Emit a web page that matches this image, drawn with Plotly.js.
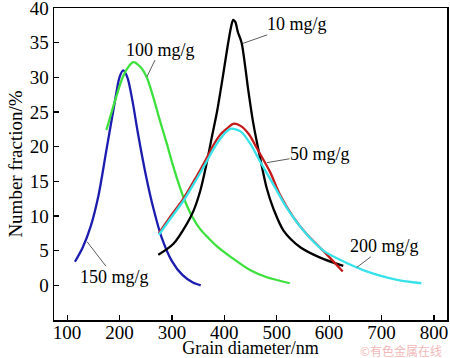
<!DOCTYPE html>
<html>
<head>
<meta charset="utf-8">
<script src="https://cdn.plot.ly/plotly-3.0.1.min.js"></script>
<style>html,body{margin:0;padding:0;background:#fff;}#chart{width:450px;height:358px;}</style>
</head>
<body>
<div id="chart"></div>
<script>
// Data
const x150 = [115,130,145,160,175,190,200,207,215,225,235,250,265,280,300,320,340,355];
const y150 = [3.4,5.5,8.5,13,19.5,26,30,31,30,26.5,22,16,11,7,3.5,1.5,0.4,0];

const x100 = [175,185,195,205,215,226,240,252,265,277,290,302,315,322,338,354,370,385,414,449,480,525];
const y100 = [22.4,25,27.5,29.8,31.3,32.2,31.5,30,27,23.8,20.5,17.3,14.2,12.7,10,8.1,6.8,5.7,4.0,2.2,1.2,0.3];

const x10 = [274,303,328,341,354,366,376,386,397,407,413,417,421,426,433,446,455,468,481,494,513,545,583,627];
const y10 = [4.4,6.0,8.8,10.7,13.6,17.5,21.3,25,30,34.8,37.3,38.3,38,36.5,35,28,23.5,18.5,14,11,7.9,5.5,4.0,2.8];

const x50 = [275,296,322,347,366,379,392,405,417,431,447,462,487,506,532,557,595,626];
const y50 = [7.5,9.8,12.5,15.7,18.3,20.2,21.7,22.6,23.3,23.0,21.8,19.8,16.4,13.1,9.8,7.4,4.5,2.0];

const x200 = [275,296,322,347,366,379,392,403,413,431,449,468,494,519,551,589,640,665,697,730,776];
const y200 = [7.3,9.5,12.2,15.3,17.8,19.6,21.1,22.1,22.6,22.2,20.5,17.9,14.5,11.2,7.9,5.0,3.0,2.2,1.4,0.8,0.3];

const seriesNames = ["150 mg/g","100 mg/g","10 mg/g","50 mg/g","200 mg/g"];
const xTicks = [100,200,300,400,500,600,700,800];
const yTicks = [0,5,10,15,20,25,30,35,40];

const FONT = "'Liberation Serif', 'Times New Roman', Times, serif";
const colors = ["#1c1cb0","#3ee03e","#000000","#c41a1a","#38e2ea"];
const xs = [x150,x100,x10,x50,x200];
const ys = [y150,y100,y10,y50,y200];

const traces = xs.map((x,i)=>({
  x: x, y: ys[i], type:'scatter', mode:'lines', name: seriesNames[i],
  line:{color:colors[i], width:2.3, shape:'spline', smoothing:0.8},
  hoverinfo:'skip'
}));

// label anchors (point on curve) and text offsets
const labelPts = [
  {x:138, y:6.3, ax:27, ay:35},
  {x:252.5, y:30.1, ax:13, ay:-27},
  {x:435.7, y:34.9, ax:54, ay:-19},
  {x:481.5, y:17.7, ax:53, ay:-9},
  {x:653, y:2.6, ax:28, ay:-21}
];
const annotations = labelPts.map((p,i)=>({
  x:p.x, y:p.y, xref:'x', yref:'y', text:seriesNames[i], showarrow:true,
  arrowhead:0, arrowwidth:0.8, arrowcolor:'#333', ax:p.ax, ay:p.ay, standoff:0,
  font:{family:FONT, size:18, color:'#000'}, borderpad:0
}));
annotations.push({
  xref:'paper', yref:'paper', x:1, y:0, yshift:-30, xshift:-3, xanchor:'right', yanchor:'middle',
  text:'©有色金属在线', showarrow:false,
  font:{family:"'Noto Sans CJK SC', sans-serif", size:12, color:'#f2b8b8'}
});

const layout = {
  width:450, height:358,
  margin:{l:54, r:3, t:8, b:38},
  paper_bgcolor:'#fff', plot_bgcolor:'#fff',
  showlegend:false,
  font:{family:FONT, size:19, color:'#000'},
  xaxis:{
    range:[75,825], tickvals:xTicks, ticktext:xTicks.map(String),
    ticks:'inside', ticklen:5, tickwidth:1.2, tickcolor:'#000',
    showline:true, linecolor:'#000', linewidth:1.5, mirror:true,
    showgrid:false, zeroline:false, ticklabelstandoff:-5,
    tickfont:{family:FONT, size:19},
    title:{text:'Grain diameter/nm', font:{family:FONT, size:18}, standoff:3}
  },
  yaxis:{
    range:[-5,40], tickvals:yTicks, ticktext:yTicks.map(String),
    ticks:'inside', ticklen:5, tickwidth:1.2, tickcolor:'#000',
    showline:true, linecolor:'#000', linewidth:1.5, mirror:true,
    showgrid:false, zeroline:false, ticklabeloverflow:'allow',
    tickfont:{family:FONT, size:19},
    title:{text:'Number fraction/%', font:{family:FONT, size:19}, standoff:2}
  },
  annotations:annotations
};

Plotly.newPlot('chart', traces, layout, {displayModeBar:false, staticPlot:true});
</script>
</body>
</html>
